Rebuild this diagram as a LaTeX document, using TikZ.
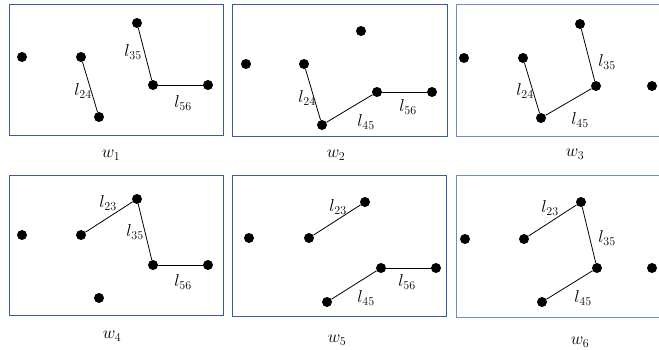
\documentclass[tikz,border=0pt]{standalone}
\usetikzlibrary{calc}
\definecolor{frameblue}{RGB}{55,90,165}
\definecolor{framelight}{RGB}{115,140,200}
\begin{document}
\begin{tikzpicture}[x=1pt,y=-1pt,
  dot/.style={circle,fill=black,inner sep=0pt,minimum size=10pt},
  edge/.style={draw=black,line width=0.8pt},
  panel/.style={draw=frameblue,line width=1pt},
  panellight/.style={draw=framelight,line width=1pt},
  lab/.style={inner sep=0pt,font=\fontsize{17}{20}\selectfont},
  captxt/.style={inner sep=0pt,font=\fontsize{17}{20}\selectfont}]
\useasboundingbox (0,0) rectangle (659,349);
% frames
\draw[panel] (9,4) rectangle (223,135);
\draw[panel] (232,4) rectangle (447,136);
\draw[panellight] (456,4) rectangle (665,136);
\draw[panel] (9,175) rectangle (223,315);
\draw[panel] (232,175) rectangle (446,316);
\draw[panellight] (456,175) rectangle (665,317);
% panel 1
\node[dot] (a1) at (22,57) {};
\node[dot] (a2) at (81,57) {};
\node[dot] (a4) at (99,117) {};
\node[dot] (a3) at (137,23) {};
\node[dot] (a5) at (153,85) {};
\node[dot] (a6) at (208,85) {};
\draw[edge] (a2) -- (a4);
\draw[edge] (a3) -- (a5);
\draw[edge] (a5) -- (a6);
\node[lab] (la24) at (83,91) {$l_{24}$};
\node[lab] (la35) at (133,52) {$l_{35}$};
\node[lab] (la56) at (183,103) {$l_{56}$};
\node[captxt] (ca) at (111,155) {$w_1$};
% panel 2
\node[dot] (b1) at (246,64) {};
\node[dot] (b2) at (304,64) {};
\node[dot] (b4) at (322,125) {};
\node[dot] (b3) at (361,31) {};
\node[dot] (b5) at (377,92) {};
\node[dot] (b6) at (432,92) {};
\draw[edge] (b2) -- (b4);
\draw[edge] (b4) -- (b5);
\draw[edge] (b5) -- (b6);
\node[lab] (lb24) at (307,98) {$l_{24}$};
\node[lab] (lb45) at (366,122) {$l_{45}$};
\node[lab] (lb56) at (408,107) {$l_{56}$};
\node[captxt] (cb) at (336,155) {$w_2$};
% panel 3
\node[dot] (c1) at (464,58) {};
\node[dot] (c2) at (523,58) {};
\node[dot] (c4) at (541,118) {};
\node[dot] (c3) at (580,24) {};
\node[dot] (c5) at (596,86) {};
\node[dot] (c6) at (652,86) {};
\draw[edge] (c2) -- (c4);
\draw[edge] (c4) -- (c5);
\draw[edge] (c3) -- (c5);
\node[lab] (lc24) at (525,91) {$l_{24}$};
\node[lab] (lc35) at (607,62) {$l_{35}$};
\node[lab] (lc45) at (580,120) {$l_{45}$};
\node[captxt] (cc) at (575,154) {$w_3$};
% panel 4
\node[dot] (d1) at (22,235) {};
\node[dot] (d2) at (81,235) {};
\node[dot] (d4) at (99,298) {};
\node[dot] (d3) at (137,199) {};
\node[dot] (d5) at (153,265) {};
\node[dot] (d6) at (208,265) {};
\draw[edge] (d2) -- (d3);
\draw[edge] (d3) -- (d5);
\draw[edge] (d5) -- (d6);
\node[lab] (ld23) at (108,203) {$l_{23}$};
\node[lab] (ld35) at (135,232) {$l_{35}$};
\node[lab] (ld56) at (183,282) {$l_{56}$};
\node[captxt] (cd) at (112,336) {$w_4$};
% panel 5
\node[dot] (e1) at (249,238) {};
\node[dot] (e2) at (309,238) {};
\node[dot] (e4) at (327,302) {};
\node[dot] (e3) at (365,202) {};
\node[dot] (e5) at (381,268) {};
\node[dot] (e6) at (436,268) {};
\draw[edge] (e2) -- (e3);
\draw[edge] (e4) -- (e5);
\draw[edge] (e5) -- (e6);
\node[lab] (le23) at (338,207) {$l_{23}$};
\node[lab] (le45) at (366,298) {$l_{45}$};
\node[lab] (le56) at (407,282) {$l_{56}$};
\node[captxt] (ce) at (337,340) {$w_5$};
% panel 6
\node[dot] (f1) at (465,239) {};
\node[dot] (f2) at (524,239) {};
\node[dot] (f4) at (542,302) {};
\node[dot] (f3) at (581,202) {};
\node[dot] (f5) at (597,268) {};
\node[dot] (f6) at (652,268) {};
\draw[edge] (f2) -- (f3);
\draw[edge] (f3) -- (f5);
\draw[edge] (f4) -- (f5);
\node[lab] (lf23) at (550,208) {$l_{23}$};
\node[lab] (lf35) at (607,238) {$l_{35}$};
\node[lab] (lf45) at (583,298) {$l_{45}$};
\node[captxt] (cf) at (580,342) {$w_6$};
\end{tikzpicture}
\end{document}
